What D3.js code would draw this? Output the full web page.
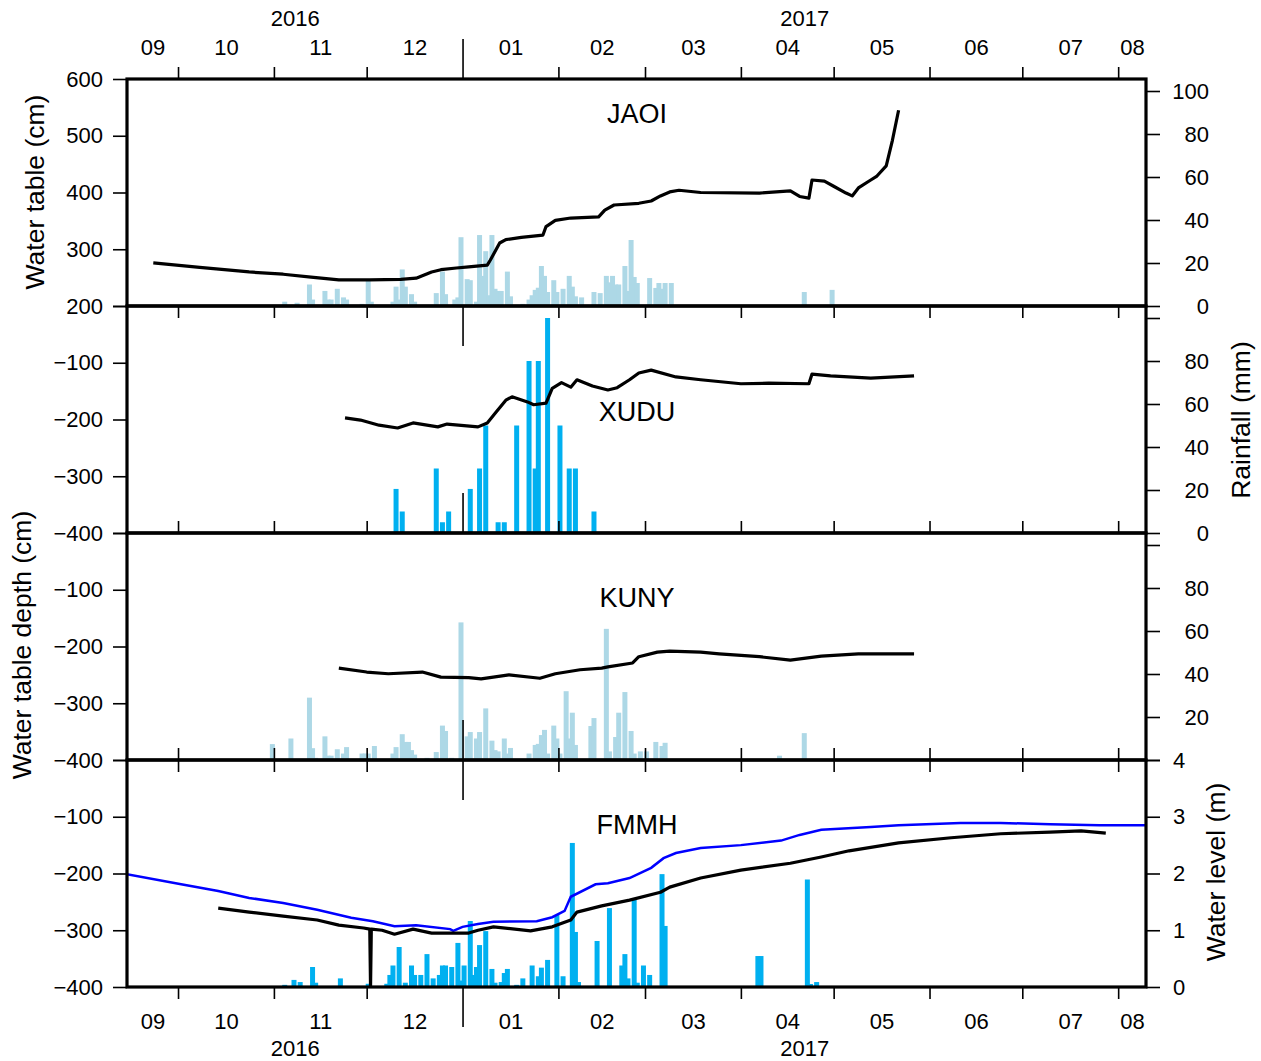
<!DOCTYPE html>
<html><head><meta charset="utf-8">
<script src="https://cdn.jsdelivr.net/npm/d3@7"></script>
<style>body{margin:0;background:#fff}</style>
</head><body><svg id="c" width="1261" height="1061"></svg>
<script>
// ---------------- DATA ----------------
const monthStarts = ["2016-09-01","2016-10-01","2016-11-01","2016-12-01","2017-01-01","2017-02-01","2017-03-01","2017-04-01","2017-05-01","2017-06-01","2017-07-01","2017-08-01"];
const monthLabels = ["09","10","11","12","01","02","03","04","05","06","07","08"];
const yearStarts = ["2016-01-01","2017-01-01"];
const yearLabels = ["2016","2017"];
const stationNames = ["JAOI","XUDU","KUNY","FMMH"];
const tableTicks = [200,300,400,500,600];
const depthTicks = [-400,-300,-200,-100,0];
const rainTicks = [0,20,40,60,80,100];
const stageTicks = [0,1,2,3,4];

const jaoiLevel = [["2016-09-23",276],["2016-10-08",268],["2016-10-24",260],["2016-11-04",256],["2016-11-13",251],["2016-11-22",246],["2016-12-02",246],["2016-12-12",247],["2016-12-17",249],["2016-12-22",260],["2016-12-25",264],["2016-12-30",267],["2017-01-03",269],["2017-01-09",272],["2017-01-10",281],["2017-01-13",311],["2017-01-15",317],["2017-01-20",321],["2017-01-27",325],["2017-01-28",340],["2017-01-31",351],["2017-02-05",355],["2017-02-14",357],["2017-02-16",369],["2017-02-19",378],["2017-02-27",381],["2017-03-03",385],["2017-03-06",394],["2017-03-09",401],["2017-03-12",404],["2017-03-19",400],["2017-04-07",399],["2017-04-17",403],["2017-04-20",393],["2017-04-23",390],["2017-04-24",422],["2017-04-28",420],["2017-05-01",411],["2017-05-05",399],["2017-05-07",394],["2017-05-09",408],["2017-05-13",422],["2017-05-15",429],["2017-05-18",447],["2017-05-20",492],["2017-05-22",545]];
const xuduLevel = [["2016-11-24",-197],["2016-11-29",-201],["2016-12-05",-210],["2016-12-11",-215],["2016-12-16",-206],["2016-12-24",-213],["2016-12-27",-208],["2017-01-06",-213],["2017-01-09",-206],["2017-01-12",-186],["2017-01-15",-166],["2017-01-17",-160],["2017-01-22",-169],["2017-01-24",-174],["2017-01-28",-171],["2017-01-30",-145],["2017-02-02",-135],["2017-02-05",-143],["2017-02-07",-130],["2017-02-12",-141],["2017-02-17",-148],["2017-02-20",-144],["2017-02-24",-130],["2017-02-27",-118],["2017-03-03",-113],["2017-03-11",-125],["2017-03-19",-130],["2017-04-01",-137],["2017-04-10",-136],["2017-04-23",-137],["2017-04-24",-120],["2017-04-30",-123],["2017-05-13",-127],["2017-05-27",-123]];
const kunyLevel = [["2016-11-22",-238],["2016-12-01",-245],["2016-12-08",-248],["2016-12-19",-245],["2016-12-25",-254],["2017-01-03",-255],["2017-01-07",-257],["2017-01-16",-250],["2017-01-26",-256],["2017-01-31",-248],["2017-02-08",-241],["2017-02-15",-238],["2017-02-17",-236],["2017-02-25",-229],["2017-02-27",-218],["2017-03-05",-210],["2017-03-09",-208],["2017-03-19",-210],["2017-03-25",-213],["2017-04-07",-218],["2017-04-17",-224],["2017-04-27",-217],["2017-05-09",-213],["2017-05-27",-213]];
const fmmhLevel = [["2016-10-14",-261],["2016-10-24",-268],["2016-11-04",-275],["2016-11-15",-282],["2016-11-22",-291],["2016-11-30",-296],["2016-12-02T00",-298],["2016-12-02T06",-400],["2016-12-02T12",-298],["2016-12-06",-300],["2016-12-10",-307],["2016-12-16",-298],["2016-12-22",-305],["2016-12-29",-305],["2017-01-03",-305],["2017-01-06",-300],["2017-01-11",-294],["2017-01-23",-301],["2017-01-30",-294],["2017-02-05",-282],["2017-02-07",-268],["2017-02-15",-257],["2017-02-24",-247],["2017-03-06",-233],["2017-03-09",-224],["2017-03-19",-208],["2017-04-01",-194],["2017-04-17",-182],["2017-04-27",-171],["2017-05-06",-160],["2017-05-22",-146],["2017-06-08",-137],["2017-06-24",-130],["2017-07-10",-127],["2017-07-20",-125],["2017-07-28",-129]];
const fmmhStage = [["2016-09-14",1.99],["2016-10-02",1.81],["2016-10-14",1.69],["2016-10-24",1.57],["2016-11-04",1.48],["2016-11-15",1.36],["2016-11-26",1.22],["2016-12-03",1.16],["2016-12-10",1.07],["2016-12-17",1.09],["2016-12-28",1.02],["2016-12-29",0.99],["2017-01-01",1.06],["2017-01-06",1.11],["2017-01-11",1.15],["2017-01-25",1.16],["2017-01-30",1.23],["2017-02-03",1.34],["2017-02-05",1.59],["2017-02-13",1.81],["2017-02-17",1.83],["2017-02-24",1.92],["2017-03-03",2.10],["2017-03-07",2.27],["2017-03-11",2.36],["2017-03-19",2.45],["2017-04-01",2.50],["2017-04-14",2.58],["2017-04-20",2.68],["2017-04-27",2.77],["2017-05-13",2.82],["2017-05-22",2.85],["2017-06-11",2.89],["2017-06-24",2.89],["2017-07-10",2.87],["2017-07-26",2.85],["2017-08-10",2.85]];

const jaoiRain = [["2016-11-04",2],["2016-11-08",1.5],["2016-11-12",10],["2016-11-13",3],["2016-11-17",7],["2016-11-18",3],["2016-11-19",3],["2016-11-21",8],["2016-11-23",4],["2016-11-24",3],["2016-11-29",1],["2016-12-01",12],["2016-12-02",2],["2016-12-09",2],["2016-12-10",9],["2016-12-11",3],["2016-12-12",17],["2016-12-13",9],["2016-12-15",5.5],["2016-12-16",2],["2016-12-23",6],["2016-12-25",16],["2016-12-26",5.5],["2016-12-29",3],["2016-12-30",4],["2016-12-31",32],["2017-01-02",12.5],["2017-01-03",12],["2017-01-05",2],["2017-01-06",33],["2017-01-07",14],["2017-01-08",25.5],["2017-01-09",5],["2017-01-10",33],["2017-01-11",8],["2017-01-12",7],["2017-01-13",7],["2017-01-15",16],["2017-01-16",4.5],["2017-01-20",1],["2017-01-22",3],["2017-01-23",5],["2017-01-24",7.5],["2017-01-25",8.5],["2017-01-26",18.6],["2017-01-27",14],["2017-01-28",6.5],["2017-01-30",12],["2017-01-31",6.5],["2017-02-02",8],["2017-02-04",14],["2017-02-05",9],["2017-02-06",4.5],["2017-02-08",4],["2017-02-12",6.5],["2017-02-14",6],["2017-02-16",14],["2017-02-17",11],["2017-02-18",14],["2017-02-19",10],["2017-02-20",10],["2017-02-22",18.6],["2017-02-23",7],["2017-02-24",30.7],["2017-02-25",13.5],["2017-02-26",10.7],["2017-03-02",13],["2017-03-04",8.4],["2017-03-05",10.7],["2017-03-06",8],["2017-03-07",10.7],["2017-03-09",10.7],["2017-03-24",0.5],["2017-03-25",0.5],["2017-04-13",0.5],["2017-04-21",6.5],["2017-04-30",7.5]];
const xuduRain = [["2016-12-10",20.5],["2016-12-12",10],["2016-12-23",30],["2016-12-25",5],["2016-12-27",10],["2017-01-03",20.5],["2017-01-06",30],["2017-01-08",50],["2017-01-12",5],["2017-01-14",5],["2017-01-18",50],["2017-01-22",80],["2017-01-24",30],["2017-01-25",80],["2017-01-28",100],["2017-02-01",50],["2017-02-04",30],["2017-02-06",30],["2017-02-12",10]];
const kunyRain = [["2016-10-31",7.4],["2016-11-03",0.5],["2016-11-06",10],["2016-11-12",29],["2016-11-13",5.5],["2016-11-14",1],["2016-11-17",11],["2016-11-18",2],["2016-11-19",2],["2016-11-21",5],["2016-11-23",3],["2016-11-24",6],["2016-11-29",3],["2016-11-30",3],["2016-12-01",3],["2016-12-03",6.5],["2016-12-09",3],["2016-12-10",6],["2016-12-12",12],["2016-12-13",8.4],["2016-12-14",8.4],["2016-12-15",4.6],["2016-12-16",2.5],["2016-12-20",1],["2016-12-23",3.7],["2016-12-25",16],["2016-12-26",13.5],["2016-12-28",1],["2016-12-31",64],["2017-01-02",11],["2017-01-03",13],["2017-01-05",10],["2017-01-06",13],["2017-01-08",24],["2017-01-10",9],["2017-01-11",4.6],["2017-01-12",4],["2017-01-14",10],["2017-01-15",3],["2017-01-16",5.6],["2017-01-22",3],["2017-01-24",7],["2017-01-25",7.5],["2017-01-26",11.6],["2017-01-27",14],["2017-01-28",3],["2017-01-30",16],["2017-01-31",10],["2017-02-01",3],["2017-02-03",32],["2017-02-04",10],["2017-02-05",22],["2017-02-06",7],["2017-02-11",15.8],["2017-02-12",19.5],["2017-02-16",61],["2017-02-17",4],["2017-02-19",10.7],["2017-02-20",22],["2017-02-22",31.6],["2017-02-24",13.5],["2017-02-25",3],["2017-02-27",4],["2017-03-01",4],["2017-03-04",8.4],["2017-03-06",6.5],["2017-03-07",8],["2017-04-13",2],["2017-04-21",12.5]];
const fmmhRain = [["2016-11-04",1],["2016-11-07",3.3],["2016-11-09",2.3],["2016-11-13",9.3],["2016-11-14",2],["2016-11-22",4],["2016-12-01",1.5],["2016-12-07",1.5],["2016-12-08",5.6],["2016-12-09",10],["2016-12-11",18.6],["2016-12-13",2],["2016-12-15",10],["2016-12-16",5.6],["2016-12-18",5.6],["2016-12-20",15.3],["2016-12-22",4],["2016-12-24",5.6],["2016-12-25",10],["2016-12-26",10],["2016-12-28",9.3],["2016-12-30",20.5],["2016-12-31",3],["2017-01-01",10],["2017-01-03",30.7],["2017-01-04",5.6],["2017-01-05",9.3],["2017-01-06",19.5],["2017-01-08",26],["2017-01-10",8.4],["2017-01-11",2],["2017-01-13",2.3],["2017-01-14",6.5],["2017-01-15",8.4],["2017-01-18",1],["2017-01-20",4],["2017-01-23",10],["2017-01-25",5],["2017-01-26",9],["2017-01-28",12.6],["2017-01-31",33.5],["2017-02-02",5],["2017-02-05",67],["2017-02-06",25.6],["2017-02-07",2.3],["2017-02-13",21.4],["2017-02-17",36.7],["2017-02-21",10],["2017-02-22",15.3],["2017-02-23",4],["2017-02-25",40.5],["2017-02-26",2],["2017-02-28",10],["2017-03-02",5.6],["2017-03-06",52.5],["2017-03-07",28.4],["2017-04-06",14.4],["2017-04-07",14.4],["2017-04-22",50],["2017-04-23",1.4],["2017-04-25",2.3]];

// ---------------- LAYOUT ----------------
const FONT = "'Liberation Sans', Arial, Helvetica, sans-serif";
const L = 127, R = 1146, H = 227;
const tops = [79, 306, 533, 760];
const BOTTOM = tops[3] + H;
const TICK_FS = 22, TITLE_FS = 26.5, NAME_FS = 27;

const pDay = d3.timeParse("%Y-%m-%d"), pHour = d3.timeParse("%Y-%m-%dT%H");
const pd = s => s.length > 10 ? pHour(s) : pDay(s);
const noon = s => d3.timeHour.offset(pd(s), 12);

const x = d3.scaleTime().domain([pHour("2016-09-14T12"), pDay("2017-08-10")]).range([L, R]);
const [d0, d1] = x.domain();
const clampMid = (a, b) => { const s = a < d0 ? d0 : a, e = b > d1 ? d1 : b; return new Date((+s + +e) / 2); };
const monthTickDates = monthStarts.map(pDay).filter(d => d > d0 && d < d1);
const monthMids = monthStarts.map(s => { const a = pDay(s); return clampMid(a, d3.timeMonth.offset(a, 1)); });
const yearMids = yearStarts.map(s => { const a = pDay(s); return clampMid(a, d3.timeYear.offset(a, 1)); });
const isYearStart = d => d.getMonth() === 0 && d.getDate() === 1;

const svg = d3.select("#c").style("font-family", FONT);

const panels = [
  {name: stationNames[0], level: jaoiLevel, rain: jaoiRain, color: "#add8e6", dom: [200, 600], ticks: tableTicks},
  {name: stationNames[1], level: xuduLevel, rain: xuduRain, color: "#00b0f0", dom: [-400, 0], ticks: depthTicks},
  {name: stationNames[2], level: kunyLevel, rain: kunyRain, color: "#add8e6", dom: [-400, 0], ticks: depthTicks},
  {name: stationNames[3], level: fmmhLevel, rain: fmmhRain, color: "#00b0f0", dom: [-400, 0], ticks: depthTicks}
];

const defs = svg.append("defs");
panels.forEach((p, i) => {
  const top = tops[i];
  p.y = d3.scaleLinear().domain(p.dom).range([top + H, top]);
  p.r = d3.scaleLinear().domain([0, 100]).range([top + H, top + H - 215]);
  defs.append("clipPath").attr("id", "clip" + i).append("rect")
    .attr("x", L).attr("y", top).attr("width", R - L).attr("height", H);
  const g = svg.append("g").attr("clip-path", `url(#clip${i})`);
  g.selectAll("rect.bar").data(p.rain).join("rect").attr("class", "bar")
    .attr("x", d => x(noon(d[0])) - 2.5).attr("width", 5)
    .attr("y", d => p.r(d[1])).attr("height", d => p.r(0) - p.r(d[1]))
    .attr("fill", p.color);
  if (i === 3) {
    const ws = d3.scaleLinear().domain([0, 4]).range([BOTTOM, top]);
    p.ws = ws;
    g.append("path").datum(fmmhStage)
      .attr("d", d3.line().x(d => x(pd(d[0]))).y(d => ws(d[1])))
      .attr("fill", "none").attr("stroke", "#0000ff").attr("stroke-width", 2.5);
  }
  g.append("path").datum(p.level)
    .attr("d", d3.line().x(d => x(pd(d[0]))).y(d => p.y(d[1])))
    .attr("fill", "none").attr("stroke", "#000").attr("stroke-width", 3.2).attr("stroke-linejoin", "round");
  svg.append("text").attr("x", 637).attr("y", [123, 421, 607, 834][i]).attr("text-anchor", "middle")
    .attr("font-size", NAME_FS).attr("fill", "#000").text(p.name);
});

function styleAxis(g) {
  g.select(".domain").remove();
  g.selectAll("line").attr("stroke", "#000").attr("stroke-width", 1.6);
  g.selectAll("text").attr("font-size", TICK_FS).attr("font-family", FONT).attr("fill", "#000");
}
function longYearTick(g, dir) {
  g.selectAll(".tick").filter(d => isYearStart(d)).select("line").attr("y2", dir * 40);
}

const tickAxes = [
  {y: tops[0], axis: d3.axisTop, dir: -1},
  {y: tops[1], axis: d3.axisBottom, dir: 1},
  {y: tops[2], axis: d3.axisTop, dir: -1},
  {y: tops[3], axis: d3.axisTop, dir: -1},
  {y: tops[3], axis: d3.axisBottom, dir: 1},
  {y: BOTTOM, axis: d3.axisBottom, dir: 1}
];
tickAxes.forEach(t => {
  const g = svg.append("g").attr("transform", `translate(0,${t.y})`)
    .call(t.axis(x).tickValues(monthTickDates).tickSize(12).tickFormat(""));
  styleAxis(g); longYearTick(g, t.dir);
});

[[d3.axisTop, tops[0], 24, monthMids, monthLabels], [d3.axisTop, tops[0], 53, yearMids, yearLabels],
 [d3.axisBottom, BOTTOM, 26, monthMids, monthLabels], [d3.axisBottom, BOTTOM, 53, yearMids, yearLabels]]
.forEach(([ax, yy, pad, vals, labs]) => {
  const g = svg.append("g").attr("transform", `translate(0,${yy})`)
    .call(ax(x).tickValues(vals).tickSize(0).tickPadding(pad).tickFormat((d, i) => labs[i]));
  styleAxis(g);
});

const fmt = d3.format("d");
panels.forEach((p, i) => {
  const g = svg.append("g").attr("transform", `translate(${L},0)`)
    .call(d3.axisLeft(p.y).tickValues(p.ticks).tickSize(14).tickPadding(10)
      .tickFormat(d => (i > 0 && d === 0) ? "" : fmt(d)));
  styleAxis(g);
});

panels.forEach((p, i) => {
  if (i === 3) return;
  const g = svg.append("g").attr("transform", `translate(${R},0)`)
    .call(d3.axisRight(p.r).tickValues(rainTicks).tickSize(14)
      .tickFormat(d => (i === 0) || (i === 1 && d < 100) || (i === 2 && d > 0 && d < 100) ? fmt(d) : ""));
  styleAxis(g);
  g.selectAll("text").attr("x", 63).attr("text-anchor", "end");
});
{
  const g = svg.append("g").attr("transform", `translate(${R},0)`)
    .call(d3.axisRight(panels[3].ws).tickValues(stageTicks).tickSize(14).tickPadding(13).tickFormat(fmt));
  styleAxis(g);
}

panels.forEach((p, i) => {
  svg.append("rect").attr("x", L).attr("y", tops[i]).attr("width", R - L).attr("height", H)
    .attr("fill", "none").attr("stroke", "#000").attr("stroke-width", 3.2);
});

const title = (txt, cx, cy) => svg.append("text")
  .attr("transform", `translate(${cx},${cy}) rotate(-90)`).attr("text-anchor", "middle")
  .attr("font-size", TITLE_FS).attr("fill", "#000").text(txt);
title("Water table (cm)", 44, 192);
title("Water table depth (cm)", 31, 645);
title("Rainfall (mm)", 1250, 420);
title("Water level (m)", 1225, 872);
</script></body></html>
